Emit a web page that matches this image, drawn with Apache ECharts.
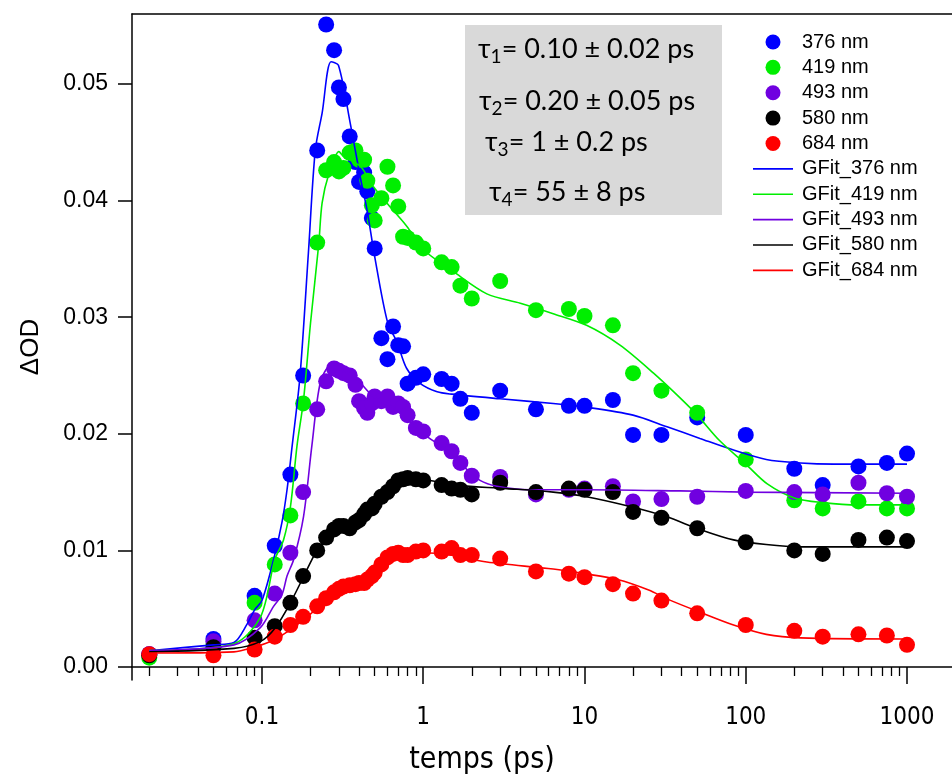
<!DOCTYPE html>
<html><head><meta charset="utf-8">
<script src="https://cdn.jsdelivr.net/npm/echarts@6/dist/echarts.min.js"></script>
<style>html,body{margin:0;padding:0;background:#fff}#c{width:952px;height:776px}</style>
</head><body><div id="c"></div><script>
// ---- data (time in ps, ΔOD) ----
const times = [0.02,0.05,0.09,0.12,0.15,0.18,0.22,0.25,0.28,0.30,0.32,0.35,0.38,0.40,0.43,0.45,0.48,0.50,0.55,0.60,0.65,0.70,0.75,0.80,0.90,1.0,1.3,1.5,1.7,2,3,5,8,10,15,20,30,50,100,200,300,500,750,1000];
const nm376 = [0.0011,0.0024,0.0061,0.0104,0.0165,0.0250,0.0443,0.0551,0.0529,0.0497,0.0487,0.0455,0.0433,0.0416,0.0424,0.0408,0.0385,0.0359,0.0282,0.0264,0.0292,0.0276,0.0275,0.0243,0.0248,0.0251,0.0247,0.0243,0.0230,0.0218,0.0237,0.0221,0.0224,0.0224,0.0229,0.0199,0.0199,0.0214,0.0199,0.0170,0.0156,0.0172,0.0175,0.0183];
const nm419 = [0.0008,0.0019,0.0055,0.0088,0.0130,0.0226,0.0364,0.0426,0.0433,0.0425,0.0428,0.0441,0.0443,0.0435,0.0435,0.0417,0.0396,0.0383,0.0402,0.0429,0.0413,0.0395,0.0369,0.0368,0.0364,0.0359,0.0347,0.0343,0.0327,0.0316,0.0331,0.0306,0.0307,0.0301,0.0293,0.0252,0.0237,0.0218,0.0178,0.0143,0.0136,0.0142,0.0136,0.0136];
const nm493 = [0.0011,0.0022,0.0040,0.0063,0.0098,0.0150,0.0221,0.0245,0.0256,0.0254,0.0252,0.0250,0.0242,0.0228,0.0222,0.0218,0.0226,0.0232,0.0228,0.0232,0.0223,0.0226,0.0223,0.0216,0.0205,0.0202,0.0192,0.0185,0.0175,0.0164,0.0163,0.0148,0.0152,0.0153,0.0155,0.0142,0.0144,0.0146,0.0151,0.0150,0.0148,0.0158,0.0149,0.0146];
const nm580 = [0.0010,0.0017,0.0025,0.0035,0.0055,0.0078,0.0100,0.0111,0.0118,0.0121,0.0121,0.0119,0.0124,0.0126,0.0131,0.0135,0.0136,0.0140,0.0146,0.0150,0.0155,0.0160,0.0161,0.0162,0.0161,0.0160,0.0156,0.0153,0.0152,0.0148,0.0158,0.0150,0.0153,0.0152,0.0150,0.0133,0.0128,0.0119,0.0107,0.0100,0.0097,0.0109,0.0111,0.0108];
const nm684 = [0.0011,0.0010,0.0015,0.0026,0.0036,0.0043,0.0052,0.0059,0.0064,0.0067,0.0069,0.0070,0.0071,0.0072,0.0072,0.0075,0.0078,0.0081,0.0088,0.0094,0.0097,0.0098,0.0096,0.0096,0.0099,0.0100,0.0099,0.0102,0.0096,0.0096,0.0093,0.0082,0.0080,0.0077,0.0071,0.0063,0.0057,0.0046,0.0036,0.0031,0.0026,0.0028,0.0027,0.0019];

const fit376T = [0.02,0.05,0.067,0.081,0.09,0.1,0.118,0.133,0.143,0.154,0.172,0.194,0.214,0.236,0.268,0.298,0.353,0.407,0.448,0.5,0.6,0.69,0.79,0.96,1.22,1.5,3,6.4,10,20,32.5,52,84,134,218,350,1000];
const fit376V = [0.0014,0.0019,0.0021,0.0037,0.0049,0.0057,0.0092,0.0124,0.0152,0.0190,0.0249,0.0355,0.0443,0.0475,0.0519,0.0516,0.0466,0.0420,0.0392,0.0352,0.0296,0.0278,0.0256,0.0243,0.0236,0.0234,0.0230,0.0226,0.0223,0.0216,0.0206,0.0196,0.0186,0.0178,0.0175,0.0174,0.0174];
const fit419T = [0.02,0.067,0.098,0.12,0.136,0.15,0.165,0.181,0.20,0.225,0.236,0.26,0.30,0.32,0.41,0.49,0.62,0.79,1.0,1.54,2.48,4.0,6.4,10.3,16.6,26.8,39,50,69,100,136,200,300,500,1000];
const fit419V = [0.0014,0.0020,0.0043,0.0092,0.0109,0.0137,0.0190,0.0229,0.0295,0.0363,0.0398,0.0423,0.0442,0.0438,0.0429,0.0412,0.0395,0.0378,0.0358,0.0339,0.0320,0.0312,0.0303,0.0293,0.0276,0.0252,0.0231,0.0216,0.0194,0.0174,0.0157,0.0145,0.0141,0.0139,0.0139];
const fit493T = [0.02,0.067,0.098,0.118,0.133,0.143,0.157,0.181,0.204,0.23,0.265,0.28,0.39,0.49,0.69,1.0,1.4,1.78,2.25,2.86,4.6,10.3,39,100,1000];
const fit493V = [0.0014,0.0019,0.0034,0.0052,0.0062,0.0078,0.0092,0.0129,0.0190,0.0244,0.0258,0.0258,0.0246,0.0232,0.0220,0.0200,0.0186,0.0172,0.0160,0.0155,0.0152,0.0152,0.0151,0.0150,0.0149];
const fit580T = [0.02,0.067,0.098,0.12,0.15,0.204,0.22,0.28,0.35,0.45,0.57,0.69,0.91,1.22,1.54,3.3,6.4,10.3,20,32,52,84,134,218,1000];
const fit580V = [0.0013,0.0016,0.0022,0.0033,0.0055,0.0092,0.0100,0.0115,0.0120,0.0135,0.0149,0.0159,0.0161,0.0159,0.0156,0.0153,0.0150,0.0146,0.0137,0.0129,0.0118,0.0109,0.0105,0.0103,0.0103];
const fit684T = [0.02,0.067,0.089,0.118,0.15,0.19,0.25,0.31,0.353,0.45,0.57,0.69,1.0,1.47,2.48,6.4,10,16,25,33,52,84,134,218,1000];
const fit684V = [0.0012,0.0013,0.0017,0.0023,0.0032,0.0043,0.0057,0.0068,0.0069,0.0075,0.0089,0.0095,0.0098,0.0096,0.0090,0.0084,0.0080,0.0075,0.0066,0.0058,0.0047,0.0036,0.0028,0.0025,0.0024];

const seriesNames = ['376 nm','419 nm','493 nm','580 nm','684 nm'];
const fitNames = ['GFit_376 nm','GFit_419 nm','GFit_493 nm','GFit_580 nm','GFit_684 nm'];
const colors = ['#0000ff','#00ee00','#7000e0','#000000','#ff0000'];
const xMajorTicks = [0.1,1,10,100,1000];
const xMinorTicks = [0.02,0.03,0.04,0.05,0.06,0.07,0.08,0.09,0.2,0.3,0.4,0.5,0.6,0.7,0.8,0.9,2,3,4,5,6,7,8,9,20,30,40,50,60,70,80,90,200,300,400,500,600,700,800,900];
const yTicks = [0,0.01,0.02,0.03,0.04,0.05];
const tauLines = [['1','= 0.10 ± 0.02 ps'],['2','= 0.20 ± 0.05 ps'],['3','= 1 ± 0.2 ps'],['4','= 55 ± 8 ps']];

// ---- chart ----
const X_MIN = 0.01563, X_MAX = 1901, Y_MIN = -0.001115, Y_MAX = 0.0560;
const pairs = (t, v) => t.map((x, i) => [x, v[i]]);
const pointData = [nm376, nm419, nm493, nm580, nm684];
const fitData = [[fit376T, fit376V],[fit419T, fit419V],[fit493T, fit493V],[fit580T, fit580V],[fit684T, fit684V]];

const series = [];
pointData.forEach((vals, i) => series.push({
  name: seriesNames[i], type: 'scatter', xAxisIndex: 0, yAxisIndex: 0,
  data: pairs(times, vals), symbol: 'circle', symbolSize: 16,
  itemStyle: { color: colors[i], opacity: 1 }, z: 2, animation: false
}));
fitData.forEach((f, i) => series.push({
  name: fitNames[i], type: 'line', xAxisIndex: 0, yAxisIndex: 0,
  data: pairs(f[0], f[1]), symbol: 'none', showSymbol: false, smooth: 0.3,
  lineStyle: { color: colors[i], width: 1.6 }, itemStyle: { color: colors[i] }, z: 3, animation: false
}));

const NARROW = "'Liberation Sans Narrow','DejaVu Sans Condensed','Liberation Sans',sans-serif";
const SANS = "'Liberation Sans',Arial,sans-serif";
const TAUFONT = "Lato,'Noto Sans',sans-serif";
const gridBox = { left: 132, right: 0, top: 14, bottom: 96 };

const graphics = [
  { type: 'rect', left: 465, top: 25, shape: { width: 257, height: 190 }, style: { fill: '#d9d9d9' }, z: 10 },
  { type: 'text', x: 482, y: 760, style: { text: 'temps (ps)', font: "30px " + NARROW, fill: '#000', textAlign: 'center', textVerticalAlign: 'middle' }, z: 10 }
];
const tauPos = [[478, 32], [479, 84], [485, 125], [489, 175]];
tauLines.forEach((l, i) => graphics.push({
  type: 'text', left: tauPos[i][0], top: tauPos[i][1], z: 11,
  style: {
    text: '{t|τ}{s|' + l[0] + '}{t|' + l[1] + '}',
    rich: {
      t: { fontSize: 27, fontFamily: TAUFONT, fill: '#000', lineHeight: 32 },
      s: { fontSize: 19, fontFamily: TAUFONT, fill: '#000', lineHeight: 32, padding: [15, 0, 0, 0] }
    }
  }
}));

const legendData = seriesNames.map(n => ({ name: n, icon: 'circle' }))
  .concat(fitNames.map(n => ({ name: n, icon: 'path://M0,0L40,0L40,1.6L0,1.6Z' })));

const option = {
  backgroundColor: '#fff',
  animation: false,
  grid: [Object.assign({}, gridBox), Object.assign({}, gridBox)],
  xAxis: [
    { gridIndex: 0, type: 'log', position: 'bottom', min: X_MIN, max: X_MAX,
      axisLine: { show: true, lineStyle: { color: '#000', width: 1.5 } },
      axisTick: { show: true, customValues: xMajorTicks, length: 17, lineStyle: { color: '#000', width: 1.5 } },
      axisLabel: { show: true, customValues: xMajorTicks, margin: 26, color: '#000', fontSize: 24, fontFamily: NARROW,
        formatter: v => String(+(+v).toPrecision(6)) },
      splitLine: { show: false }, minorTick: { show: false } },
    { gridIndex: 0, type: 'log', position: 'top', min: X_MIN, max: X_MAX,
      axisLine: { show: true, lineStyle: { color: '#000', width: 1.5 } },
      axisTick: { show: false }, axisLabel: { show: false }, splitLine: { show: false } },
    { gridIndex: 1, type: 'log', position: 'bottom', min: X_MIN, max: X_MAX,
      axisLine: { show: false },
      axisTick: { show: true, customValues: xMinorTicks, length: 9, lineStyle: { color: '#000', width: 1.3 } },
      axisLabel: { show: false }, splitLine: { show: false } }
  ],
  yAxis: [
    { gridIndex: 0, type: 'value', min: Y_MIN, max: Y_MAX,
      axisLine: { show: true, lineStyle: { color: '#000', width: 1.5 } },
      axisTick: { show: true, customValues: yTicks, length: 14, lineStyle: { color: '#000', width: 1.5 } },
      axisLabel: { show: true, customValues: yTicks, margin: 24, color: '#000', fontSize: 23, fontFamily: SANS,
        formatter: v => (+v).toFixed(2) },
      splitLine: { show: false },
      name: 'ΔOD', nameLocation: 'middle', nameGap: 88, nameTextStyle: { fontSize: 26, fontFamily: SANS, color: '#000' } },
    { gridIndex: 1, type: 'value', min: Y_MIN, max: Y_MAX, show: false }
  ],
  legend: {
    orient: 'vertical', left: 753, top: 32, padding: 0, itemWidth: 40, itemHeight: 15, itemGap: 5.37,
    textStyle: { fontSize: 20, lineHeight: 20, fontFamily: SANS, color: '#000', padding: [0, 0, 0, 4] },
    data: legendData
  },
  graphic: graphics,
  series: series
};
const chart = echarts.init(document.getElementById('c'), null, { renderer: 'canvas' });
chart.setOption(option);
</script></body></html>
